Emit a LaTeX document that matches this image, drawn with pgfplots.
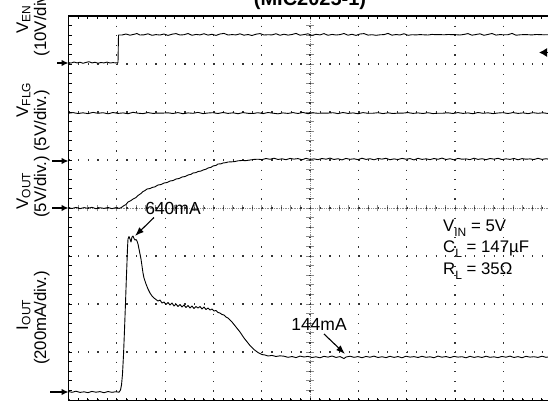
\documentclass[border=0pt]{standalone}
\usepackage{pgfplots}
\pgfplotsset{compat=1.18}
\usepackage{fontspec}
\setmainfont{Liberation Sans}
\usetikzlibrary{arrows.meta}
\newcommand{\sub}[1]{\raisebox{-0.3em}{\fontsize{12}{12}\selectfont #1}}
\newcommand{\lsub}[1]{\raisebox{-0.14em}{\fontsize{12}{12}\selectfont #1}}
\newcommand{\lbl}{\fontsize{16.8}{18}\selectfont}
\begin{document}
\begin{tikzpicture}[x=1pt,y=1pt]
\useasboundingbox (0,0) rectangle (548,400);
\clip (0,0) rectangle (548,400);
% centre cross lines of the scope screen
\draw[black!45, line width=0.8pt, densely dotted] (68.5,192) -- (551.5,192);
\foreach \i in {0,...,50} \draw[black!45, line width=0.7pt] ({68.5+9.66*\i},188.7) -- ({68.5+9.66*\i},195.3);
\draw[black!45, line width=0.8pt, densely dotted] (310,0) -- (310,384);
\foreach \i in {0,...,40} \draw[black!45, line width=0.7pt] (306,{9.6*\i}) -- (314,{9.6*\i});
\begin{axis}[
  at={(68.5pt,-1pt)}, anchor=south west,
  width=483pt, height=385pt, scale only axis,
  xmin=68.5, xmax=551.5, ymin=16, ymax=401, y dir=reverse,
  xtick={68.5,116.8,165.1,213.4,261.7,310,358.3,406.6,454.9,503.2,551.5},
  ytick={16,64,112,160,208,256,304,352,400},
  minor x tick num=4, minor y tick num=4,
  xticklabels={}, yticklabels={},
  tick align=inside, major tick length=3pt, minor tick length=3pt,
  tick style={black, line width=0.8pt},
  grid=major,
  x grid style={black!80, line width=1.2pt, dash pattern=on 1.2pt off 8.4pt},
  y grid style={black!80, line width=1.2pt, dash pattern=on 1.2pt off 8.46pt},
  axis line style={black, line width=1.6pt},
]
% V_EN
\addplot[black, line width=0.9pt, line join=round] coordinates {
(68.5,62.5) (71,63.1) (74,62) (77,62.9) (80,62.2) (83,63.3) (86,62.4) (89,61.7) (92,62.9) (95,62.3) (98,63.2) (101,62.5) (104,62.9) (107,62.1) (110,63) (113,62.6) (116,62.9) (118,62.7)
(118.5,35) (122,35) (126,34) (130,35.2) (134,34.3) (137,33.5) (140,35) (144,34.8) (148,33.8) (152,35.3) (156,34.6) (160,35) (164,34) (168,35.4) (172,34.2) (176,33.6) (180,35) (184,34.7) (188,33.5) (192,35.3) (196,34.4) (200,34.9) (204,33.7) (208,35.1) (212,34.3) (216,35.4) (220,34) (224,33.4) (228,35) (232,34.6) (236,34.9) (240,33.8) (244,35.2) (248,34.5) (252,35.5) (256,34.2) (260,33.6) (264,35) (268,34.7) (272,34.9) (276,33.7) (280,35.3) (284,34.2) (288,35.1) (292,34.5) (296,33.4) (300,35.2) (304,34.6) (308,33.8) (312,35.4) (316,34.3) (320,34.9) (324,33.6) (328,35.3) (332,34.4) (336,35) (340,34.6) (344,33.5) (348,35.2) (352,34.3) (356,35.4) (360,34) (364,33.6) (368,35.1) (372,34.7) (376,35.3) (380,34.8) (384,34.6) (388,33.4) (392,35.2) (396,34.5) (400,35) (404,33.7) (408,35.3) (412,34.7) (416,34.9) (420,34.6) (424,34.8) (428,35) (432,34.4) (436,34.7) (440,34.6) (444,34.8) (448,34.5) (452,34.6) (456,34.7) (460,35) (464,34.4) (468,33.6) (472,35.2) (476,34.5) (480,33.8) (484,35.3) (488,34.4) (492,33.5) (496,35.1) (500,34.6) (504,34.8) (508,34.7) (512,33.4) (516,35.2) (520,34.8) (524,34.6) (528,34.7) (532,34.9) (536,34.5) (540,34.6) (544,34.8) (548,34.7) (552,34.6)
};
% V_FLG
\addplot[black, line width=0.9pt, line join=round] coordinates {
(68.5,113.2) (73,112.6) (78,113.5) (83,112.8) (88,113.6) (93,112.4) (98,113.3) (103,112.7) (108,113.8) (113,112.5) (118,113.4) (123,112.9) (128,113.7) (133,112.3) (138,113.2) (143,113.6) (148,112.6) (153,113.4) (158,113.1) (163,113.1) (168,112.8) (173,113.5) (178,112.6) (183,113.7) (188,112.9) (193,113.3) (198,112.4) (203,113.6) (208,113) (213,112.7) (218,113.5) (223,112.5) (228,113.4) (233,112.8) (238,113.7) (243,112.6) (248,113.3) (253,113.5) (258,112.7) (263,113.6) (268,112.5) (273,113.2) (278,113.8) (283,112.9) (288,113.4) (293,112.6) (298,113.5) (303,112.4) (308,113.7) (313,112.8) (318,113.3) (323,113.1) (328,113.1) (333,112.7) (338,113.6) (343,112.5) (348,113.4) (353,112.9) (358,113.7) (363,112.6) (368,113.3) (373,113.2) (378,112.7) (383,113.6) (388,112.8) (393,113.5) (398,113.1) (403,113.1) (408,112.6) (413,113.4) (418,112.9) (423,113.5) (428,112.7) (433,113.6) (438,113.2) (443,113.2) (448,112.8) (453,113.5) (458,112.6) (463,113.4) (468,112.9) (473,113.7) (478,112.5) (483,113.3) (488,112.8) (493,113.6) (498,113) (503,112.7) (508,113.5) (513,112.6) (518,113.4) (523,112.9) (528,113.6) (533,112.7) (538,113.3) (543,112.8) (548,113.5) (552,113)
};
% V_OUT
\addplot[black, line width=0.9pt, line join=round] coordinates {
(68.5,207.8) (72,208.5) (76,207.4) (80,208.6) (84,207.6) (88,208.3) (92,207.3) (96,208.7) (100,207.7) (104,208.4) (108,207.5) (112,208.6) (116,207.6) (119,208.4) (121,207.8)
(124,205.5) (126,204.5) (128,202) (131,200.5) (133,199) (136,197.5) (138,195.5) (141,193.5) (143,191.5) (145,190.5) (147,189) (150,188.5) (152,187.5) (155,186.8) (158,185) (161,184.5) (164,183) (167,182.5) (170,181) (173,180.5) (176,179) (179,178.5) (182,177) (185,176.5) (188,175) (191,174.3) (193,173) (196,172.6) (198,171.5) (201,171) (203,170) (206,169.2) (208,168) (211,167.3) (213,166) (216,165.4) (218,164) (221,163.8) (223,163) (226,162.6) (228,162) (232,161.8) (235,161.5) (238,160.8) (242,160.5) (246,160.6) (250,160) (254,159.4) (258,159.2)
(262,159.6) (266,158.5) (270,159.3) (274,158.2) (278,159.5) (282,158.8) (286,159.7) (290,158.4) (294,159.1) (298,158.6) (302,159.8) (306,158.3) (310,159.4) (314,158.9) (318,159.6) (322,158.5) (326,159.2) (330,158.1) (334,159.5) (338,158.7) (342,159.9) (346,158.4) (350,159.3) (354,158.8) (358,159.6) (362,158.2) (366,159.4) (370,158.7) (374,159.8) (378,158.5) (382,159.1) (386,158.3) (390,159.7) (394,158.9) (398,159.5) (402,158.4) (406,159.2) (410,158.6) (414,159.9) (418,158.3) (422,159.4) (426,158.8) (430,159.6) (434,158.5) (438,159.3) (442,158.1) (446,159.5) (450,158.7) (454,159.8) (458,158.4) (462,159.2) (466,158.9) (470,159.6) (474,158.2) (478,159.4) (482,158.7) (486,159.7) (490,158.5) (494,159.1) (498,158.3) (502,159.6) (506,158.8) (510,159.4) (514,158.4) (518,159.8) (522,158.6) (526,159.2) (530,158.9) (534,159.5) (538,158.3) (542,159.4) (546,158.7) (550,159.5) (552,159)
};
% I_OUT
\addplot[black, line width=0.9pt, line join=round] coordinates {
(68.5,391.5) (72,392.3) (76,391.2) (80,392.4) (84,391.8) (88,392.6) (92,391.4) (96,392.2) (100,391.6) (104,392.7) (108,391.5) (112,392.3) (116,391.7) (119,392.2)
(120.5,390) (121.5,385) (122.5,374) (123.5,355) (124.5,330) (125.5,303) (126.3,280) (127,262) (127.5,248) (128,239) (129,236.5) (130,239) (131,242) (132,237) (133,236) (134,238.5) (135,240) (136,239.5)
(137,241) (138,244) (139,249) (140,254) (141,259) (142,266) (143,273) (144,278) (146,284) (148,289) (150,293) (152,296) (154,298) (156,299.5) (158,301) (160,300) (162,303) (164,302) (166,304.5) (168,302.5) (170,305) (172,303) (174,306) (176,304) (178,306.5) (180,304.5) (182,307) (184,305) (186,307.5) (188,305.5) (190,308) (192,306) (194,308.5) (196,306.5) (198,308) (200,306.5) (202,309) (204,307) (206,309.5) (208,308) (210,310) (212,309) (214,311) (216,310.5) (218,312.5) (220,313) (222,314.5) (224,315) (226,317) (228,318) (230,320) (232,322) (234,324.5) (236,327) (238,329.5) (240,332) (242,335) (244,338) (246,340.5) (248,343) (250,345.5) (252,347.5) (254,349.5) (256,351) (258,352.5) (260,353.5) (262,354.5) (265,355) (268,356) (272,355.4) (276,356.5) (280,355.8)
(284,356.2) (288,357.3) (292,356.5) (296,357.6) (300,356.1) (304,357) (308,356.4) (312,357.5) (316,356.8) (320,357.8) (324,356.3) (328,357.1) (332,356) (336,357.4) (340,356.6) (344,358.5) (346,357) (350,356.2) (354,357.3) (358,356.6) (362,357.7) (366,356.4) (370,357.2) (374,356.1) (378,357.5) (382,356.7) (386,357.6) (390,356.3) (394,357.4) (398,356.5) (402,357.8) (406,356.2) (410,357.1) (414,356.6) (418,357.5) (422,356.3) (426,357.3) (430,356.8) (434,357.7) (438,356.1) (442,357.2) (446,356.5) (450,357.6) (454,356.4) (458,357.1) (462,356.7) (466,357.8) (470,356.3) (474,357.4) (478,356.6) (482,357.5) (486,356.2) (490,357.3) (494,356.8) (498,357.6) (502,356.4) (506,357.2) (510,356.1) (514,357.5) (518,356.6) (522,357.7) (526,356.3) (530,357.1) (534,356.7) (538,357.4) (542,356.2) (546,357.3) (550,356.6) (552,357)
};
\end{axis}
% title (cut at the top)
\node[anchor=base, inner sep=0pt, font=\fontsize{20}{24}\selectfont\bfseries] at (310,394) {(MIC2025-1)};
% channel labels
\node[rotate=90, anchor=base, font=\lbl] at (28,380) {V\lsub{EN}};
\node[rotate=90, anchor=base, font=\lbl] at (46,379) {(10V/div.)};
\node[rotate=90, anchor=base, font=\lbl] at (28,300) {V\lsub{FLG}};
\node[rotate=90, anchor=base, font=\lbl] at (46,279) {(5V/div.)};
\node[rotate=90, anchor=base, font=\lbl] at (28,209) {V\lsub{OUT}};
\node[rotate=90, anchor=base, font=\lbl] at (46,213) {(5V/div.)};
\node[rotate=90, anchor=base, font=\lbl] at (28,85) {I\lsub{OUT}};
\node[rotate=90, anchor=base, font=\lbl] at (46,82) {(200mA/div.)};
% reference-level arrows
\draw[-{Latex[length=7pt,width=6.5pt]}, line width=1.2pt] (57,337) -- (68.5,337);
\draw[-{Latex[length=7pt,width=6.5pt]}, line width=1.2pt] (52,239) -- (68.5,239);
\draw[-{Latex[length=7pt,width=6.5pt]}, line width=1.2pt] (52,192) -- (68.5,192);
\draw[-{Latex[length=7pt,width=6.5pt]}, line width=1.2pt] (50,8) -- (68.5,8);
\draw[-{Latex[length=8pt,width=9pt]}, line width=1.2pt] (548,347.5) -- (539,347.5);
% annotations
\node[anchor=base, inner sep=0pt, font=\fontsize{17.5}{20}\selectfont] at (173,186) {640mA};
\draw[-{Latex[length=9pt,width=6.5pt]}, line width=1.1pt] (154,182.5) -- (135,164);
\node[anchor=base, inner sep=0pt, font=\fontsize{17.5}{20}\selectfont] at (319,70) {144mA};
\draw[-{Latex[length=9pt,width=6.5pt]}, line width=1.1pt] (324,66) -- (345,46);
\node[anchor=base west, inner sep=0pt, font=\lbl] at (443,168.5) {V\sub{IN} = 5V};
\node[anchor=base west, inner sep=0pt, font=\lbl] at (443,147.5) {C\sub{L} = 147µF};
\node[anchor=base west, inner sep=0pt, font=\lbl] at (443,125.5) {R\sub{L} = 35Ω};
\end{tikzpicture}
\end{document}
